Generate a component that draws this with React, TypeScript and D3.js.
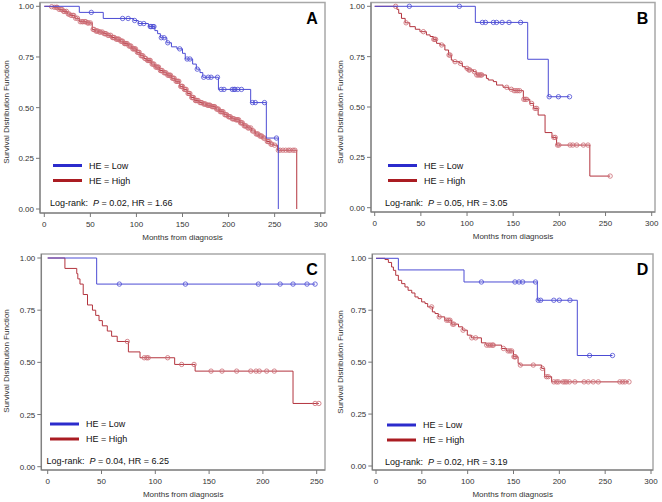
import React from 'react';
import * as d3 from 'd3';

// ---------- Data (months, survival) ----------
// Panel A
const aLowT = [38, 64, 97, 102, 113, 120, 123, 126, 133, 138, 144, 150, 153, 161, 165, 169, 172, 189, 224, 241, 254];
const aLowS = [0.97, 0.94, 0.93, 0.915, 0.9, 0.88, 0.865, 0.845, 0.82, 0.8, 0.79, 0.768, 0.74, 0.715, 0.69, 0.673, 0.65, 0.59, 0.525, 0.35, 0];
const aLowC = [51, 85, 91, 98, 104, 108, 115, 116, 118, 119, 127, 130, 134, 147, 155, 158, 166, 173, 178, 181, 188, 192, 195, 204, 206, 207, 210, 214, 226, 229, 239, 252];
const aHighT = [5, 10, 15, 20, 25, 28, 33, 38, 46, 52, 55, 59, 64, 68, 73, 77, 82, 86, 91, 95, 100, 104, 108, 111, 116, 120, 125, 129, 133, 138, 142, 147, 151, 155, 159, 163, 168, 172, 176, 181, 186, 190, 195, 199, 203, 207, 212, 216, 220, 225, 229, 233, 237, 241, 245, 249, 253, 274];
const aHighS = [0.998, 0.995, 0.985, 0.975, 0.962, 0.955, 0.941, 0.924, 0.918, 0.886, 0.878, 0.873, 0.865, 0.857, 0.846, 0.838, 0.828, 0.816, 0.804, 0.79, 0.773, 0.756, 0.743, 0.733, 0.715, 0.7, 0.683, 0.672, 0.66, 0.645, 0.63, 0.605, 0.59, 0.57, 0.55, 0.535, 0.525, 0.518, 0.512, 0.505, 0.493, 0.48, 0.465, 0.455, 0.445, 0.44, 0.425, 0.41, 0.4, 0.385, 0.37, 0.36, 0.35, 0.333, 0.32, 0.315, 0.29, 0];
const aHighC = [8, 11, 13, 14, 16, 18, 19, 21, 22, 24, 26, 27, 29, 31, 32, 34, 36, 39, 41, 42, 44, 45, 47, 48, 50, 53, 54, 56, 57, 58, 60, 61, 63, 65, 66, 67, 69, 70, 72, 74, 75, 76, 78, 79, 80, 81, 83, 84, 85, 87, 88, 89, 90, 92, 93, 94, 96, 97, 98, 99, 101, 102, 103, 105, 106, 107, 109, 110, 112, 113, 114, 115, 117, 118, 119, 121, 122, 123, 124, 126, 127, 128, 130, 131, 132, 134, 135, 136, 137, 139, 140, 141, 143, 144, 145, 146, 148, 149, 150, 152, 153, 154, 156, 157, 158, 160, 161, 162, 164, 165, 166, 167, 169, 170, 171, 173, 174, 175, 177, 178, 179, 180, 182, 183, 184, 185, 187, 188, 189, 191, 192, 193, 194, 196, 197, 198, 200, 201, 202, 204, 205, 206, 208, 209, 210, 211, 213, 214, 215, 217, 218, 219, 221, 222, 224, 226, 227, 230, 231, 232, 234, 235, 236, 238, 239, 242, 243, 244, 246, 247, 250, 254, 256, 259, 262, 265, 267, 270, 272];

// Panel B
const bLowT = [109, 165.7, 188];
const bLowS = [0.92, 0.737, 0.551];
const bLowC = [37.5, 91.7, 116.6, 120, 128.5, 132, 138, 145.5, 158, 189, 199, 211];
const bHighT = [24, 26, 29, 33, 38, 44, 49, 56, 60, 63.5, 67, 71, 76, 80, 83, 85, 92, 95, 98, 101, 107, 110, 121, 123, 128.5, 132, 139, 145, 150, 161, 168, 172, 177, 184.5, 192, 197, 233];
const bHighS = [0.985, 0.965, 0.94, 0.918, 0.899, 0.886, 0.874, 0.858, 0.85, 0.836, 0.816, 0.808, 0.783, 0.758, 0.733, 0.725, 0.717, 0.7, 0.692, 0.684, 0.675, 0.659, 0.642, 0.634, 0.626, 0.609, 0.598, 0.588, 0.581, 0.538, 0.518, 0.493, 0.46, 0.373, 0.349, 0.311, 0.157];
const bHighC = [22.7, 34, 52.7, 64, 65, 66, 72.5, 80.5, 81.6, 87, 92.8, 100, 102, 103, 108, 110.5, 112, 113.5, 115, 116, 143, 148, 151, 153, 155, 157, 161.5, 163, 164.6, 170, 173.6, 175.5, 194, 195.5, 198, 199.5, 211.6, 214.5, 218.8, 226, 231, 255];

// Panel C
const cLowT = [45.5];
const cLowS = [0.875];
const cLowC = [66.6, 128, 195.8, 216, 228, 241, 248.5];
const cHighT = [16, 27, 28, 30, 33, 37, 41.6, 44.6, 47.7, 50.8, 55.4, 59.4, 64.6, 75, 85.8, 118, 137, 228];
const cHighS = [0.95, 0.925, 0.9, 0.875, 0.825, 0.775, 0.75, 0.725, 0.7, 0.675, 0.65, 0.625, 0.6, 0.55, 0.522, 0.49, 0.458, 0.303];
const cHighC = [74, 89.7, 92, 93.4, 111.5, 124.5, 136, 151.8, 162, 175.6, 188.7, 193.6, 196.7, 203.5, 210.6, 248.5, 252];

// Panel D
const dLowT = [24.4, 96, 176, 219.6];
const dLowS = [0.944, 0.886, 0.798, 0.532];
const dLowC = [115, 151.6, 156, 160, 174, 177, 179.6, 194, 200, 211.6, 233, 258];
const dHighT = [9.8, 13.5, 17, 19, 21.5, 24.4, 28, 31.6, 35, 39, 42.5, 46, 49.8, 53.5, 56.4, 61.5, 64.4, 68, 75, 82.5, 90, 94.5, 99.6, 104, 115, 120, 137, 142.5, 150, 155, 157, 180.7, 184, 191.6];
const dHighS = [0.994, 0.98, 0.958, 0.942, 0.918, 0.894, 0.878, 0.862, 0.846, 0.833, 0.814, 0.806, 0.79, 0.782, 0.766, 0.742, 0.734, 0.718, 0.702, 0.683, 0.67, 0.654, 0.63, 0.617, 0.593, 0.582, 0.566, 0.554, 0.526, 0.494, 0.486, 0.47, 0.43, 0.405];
const dHighC = [60.7, 69, 77, 79, 80.7, 83.6, 85, 95, 104.5, 108.7, 120.7, 123, 125, 127, 128, 139, 144, 146, 148, 150.5, 151.5, 152, 157.5, 171.6, 181.5, 186, 188, 194, 197, 199, 204, 206, 208, 211, 217, 227, 231.6, 237, 242.5, 266, 269, 271.6, 276];

const yTicks = [0, 0.25, 0.5, 0.75, 1];
const xTicks300 = [0, 50, 100, 150, 200, 250, 300];
const xTicks250 = [0, 50, 100, 150, 200, 250];
const letters = ['A', 'B', 'C', 'D'];
const stats = [
  { p: '0.02', hr: '1.66' },
  { p: '0.05', hr: '3.05' },
  { p: '0.04', hr: '6.25' },
  { p: '0.02', hr: '3.19' },
];
const legendLabels = ['HE = Low', 'HE = High'];

// ---------- Layout ----------
const FONT = "'Liberation Sans', Arial, sans-serif";
const BLUE = '#4c4cd4';
const RED = '#b3343e';
const RED_C = '#cc6a72';
const LEG_BLUE = '#2b2bcc';
const LEG_RED = '#aa1c22';

type Layout = {
  axisX: number; top: number; bottom: number; right: number;
  x0: number; x1: number; xMax: number; y0: number; y1: number;
  ticks: number[]; ytX: number; ytY: number;
  legX: number; legY: number; logX: number; logY: number;
  letX: number; letY: number;
};

const layouts: Layout[] = [
  { axisX: 40, top: 2.5, bottom: 213, right: 325, x0: 44.3, x1: 320.7, xMax: 300, y0: 209, y1: 6.3, ticks: xTicks300, ytX: 9, ytY: 112, legX: 53, legY: 165.5, logX: 50, logY: 205.5, letX: 312, letY: 23.5 },
  { axisX: 371, top: 2.5, bottom: 212, right: 655, x0: 374.7, x1: 651.7, xMax: 300, y0: 207.7, y1: 6.3, ticks: xTicks300, ytX: 343, ytY: 112, legX: 388, legY: 165.5, logX: 385, logY: 205.5, letX: 642.5, letY: 23.5 },
  { axisX: 41.3, top: 254, bottom: 470, right: 325, x0: 47.7, x1: 316.7, xMax: 250, y0: 466.7, y1: 258, ticks: xTicks250, ytX: 9, ytY: 361, legX: 50, legY: 424, logX: 46.5, logY: 464, letX: 312, letY: 275 },
  { axisX: 372.3, top: 254, bottom: 470, right: 653, x0: 376, x1: 651, xMax: 300, y0: 466, y1: 258.3, ticks: xTicks300, ytX: 343, ytY: 362, legX: 387, legY: 425, logX: 385, logY: 465, letX: 642.5, letY: 275 },
];

const curves = [
  { low: [aLowT, aLowS, aLowC], high: [aHighT, aHighS, aHighC] },
  { low: [bLowT, bLowS, bLowC], high: [bHighT, bHighS, bHighC] },
  { low: [cLowT, cLowS, cLowC], high: [cHighT, cHighS, cHighC] },
  { low: [dLowT, dLowS, dLowC], high: [dHighT, dHighS, dHighC] },
];

function Curve({ x, y, T, S, C, color, circ }: any) {
  const lastT = T[T.length - 1];
  const lastC = C.length ? C[C.length - 1] : 0;
  const pts: [number, number][] = [[0, 1], ...T.map((t: number, i: number) => [t, S[i]] as [number, number])];
  if (lastC > lastT) pts.push([lastC, S[S.length - 1]]);
  const path = d3.line<[number, number]>().x(d => x(d[0])).y(d => y(d[1])).curve(d3.curveStepAfter)(pts) || '';
  const surv = (c: number) => {
    const i = d3.bisectRight(T, c);
    return i === 0 ? 1 : S[i - 1];
  };
  return (
    <g>
      <path d={path} fill="none" stroke={color} strokeWidth={1} />
      {C.map((c: number, i: number) => (
        <circle key={i} cx={x(c)} cy={y(surv(c))} r={2.2} fill="none" stroke={circ} strokeWidth={0.8} />
      ))}
    </g>
  );
}

function Panel({ idx }: { idx: number }) {
  const L = layouts[idx];
  const x = d3.scaleLinear().domain([0, L.xMax]).range([L.x0, L.x1]);
  const y = d3.scaleLinear().domain([0, 1]).range([L.y0, L.y1]);
  const cv = curves[idx];
  const xmid = (L.axisX + L.right) / 2;
  return (
    <g fontFamily={FONT}>
      <rect x={L.axisX} y={L.top} width={L.right - L.axisX} height={L.bottom - L.top} fill="none" stroke="#a8a8a8" strokeWidth={1.5} />
      <line x1={L.axisX} x2={L.axisX} y1={L.top} y2={L.bottom} stroke="#777" strokeWidth={1} />
      <line x1={L.axisX} x2={L.right} y1={L.bottom} y2={L.bottom} stroke="#777" strokeWidth={1} />
      {yTicks.map(t => (
        <g key={'y' + t}>
          <line x1={L.axisX - 4} x2={L.axisX} y1={y(t)} y2={y(t)} stroke="#777" />
          <text x={L.axisX - 6} y={y(t) + 3} fontSize={8} textAnchor="end" fill="#333">{t.toFixed(2)}</text>
        </g>
      ))}
      {L.ticks.map(t => (
        <g key={'x' + t}>
          <line x1={x(t)} x2={x(t)} y1={L.bottom} y2={L.bottom + 4} stroke="#777" />
          <text x={x(t)} y={L.bottom + 14} fontSize={8} textAnchor="middle" fill="#333">{t}</text>
        </g>
      ))}
      <text x={xmid} y={L.bottom + 27} fontSize={8} textAnchor="middle" fill="#333">Months  from diagnosis</text>
      <text transform={`translate(${L.ytX},${L.ytY}) rotate(-90)`} fontSize={8} textAnchor="middle" fill="#333">Survival  Distribution  Function</text>
      <Curve x={x} y={y} T={cv.high[0]} S={cv.high[1]} C={cv.high[2]} color={RED} circ={RED_C} />
      <Curve x={x} y={y} T={cv.low[0]} S={cv.low[1]} C={cv.low[2]} color={BLUE} circ={BLUE} />
      <line x1={L.legX} x2={L.legX + 29} y1={L.legY} y2={L.legY} stroke={LEG_BLUE} strokeWidth={3} />
      <text x={L.legX + 36} y={L.legY + 3.2} fontSize={9} fill="#111">{legendLabels[0]}</text>
      <line x1={L.legX} x2={L.legX + 29} y1={L.legY + 15} y2={L.legY + 15} stroke={LEG_RED} strokeWidth={3} />
      <text x={L.legX + 36} y={L.legY + 18.2} fontSize={9} fill="#111">{legendLabels[1]}</text>
      <text x={L.logX} y={L.logY} fontSize={9} fill="#111" xmlSpace="preserve">
        Log-rank:  <tspan fontStyle="italic">P</tspan> = {stats[idx].p}, HR = {stats[idx].hr}
      </text>
      <text x={L.letX} y={L.letY} fontSize={16} fontWeight="bold" textAnchor="middle" fill="#000">{letters[idx]}</text>
    </g>
  );
}

export default function App() {
  return (
    <svg width={662} height={502} viewBox="0 0 662 502" style={{ position: 'absolute', left: 0, top: 0, background: '#fff' }}>
      <rect x={0} y={0} width={662} height={502} fill="#fff" />
      {[0, 1, 2, 3].map(i => <Panel key={i} idx={i} />)}
    </svg>
  );
}
